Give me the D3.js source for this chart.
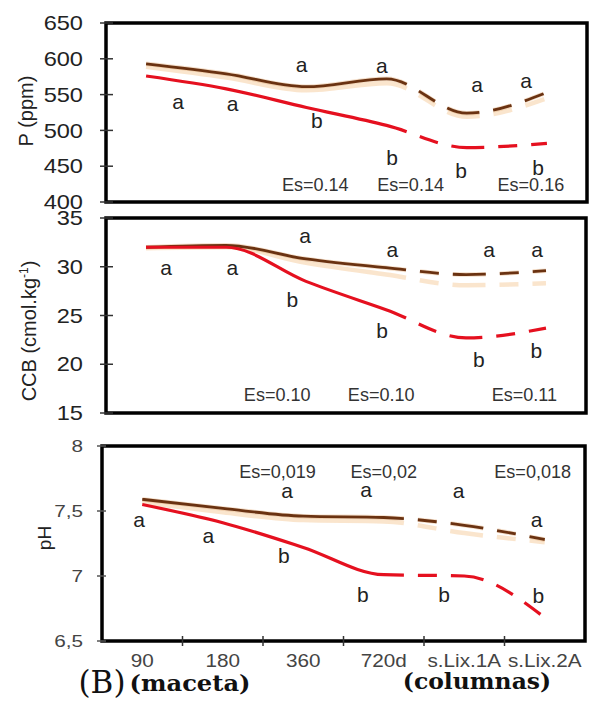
<!DOCTYPE html>
<html>
<head>
<meta charset="utf-8">
<script src="https://cdn.jsdelivr.net/npm/d3@7"></script>
<style>
  body { margin: 0; background: #fff; }
  svg { display: block; }
</style>
</head>
<body>
<svg id="chart" width="589" height="702"></svg>
<script>
// Sampling dates (pots) and leaching stages (columns)
const categories = ["90", "180", "360", "720d", "s.Lix.1A", "s.Lix.2A"];

// Available phosphorus, P (ppm)
const pBrown = [593, 579, 561, 572, 524, 553];
const pPeach = [589, 574, 556, 566, 519, 545];
const pRed   = [576, 558, 532, 507, 476, 482];
const pTicks = [400, 450, 500, 550, 600, 650];
const pUpperLetters = ["a", "a", "a", "a"];
const pLowerLetters = ["a", "a", "b", "b", "b", "b"];
const pEs = ["Es=0.14", "Es=0.14", "Es=0.16"];

// Base exchange capacity, CCB (cmol.kg-1)
const ccbBrown = [32.0, 32.2, 30.8, 29.9, 29.2, 29.6];
const ccbPeach = [31.9, 32.0, 30.4, 29.2, 28.1, 28.3];
const ccbRed   = [32.0, 32.0, 28.5, 25.6, 22.7, 23.7];
const ccbTicks = [15, 20, 25, 30, 35];
const ccbUpperLetters = ["a", "a", "a", "a"];
const ccbLowerLetters = ["a", "a", "b", "b", "b", "b"];
const ccbEs = ["Es=0.10", "Es=0.10", "Es=0.11"];

// Soil pH
const phBrown = [7.59, 7.52, 7.46, 7.45, 7.39, 7.28];
const phPeach = [7.57, 7.49, 7.43, 7.42, 7.33, 7.26];
const phRed   = [7.55, 7.41, 7.22, 7.01, 7.00, 6.68];
const phTicks = [6.5, 7, 7.5, 8];
const phUpperLetters = ["a", "a", "a", "a"];
const phLowerLetters = ["a", "a", "b", "b", "b", "b"];
const phEs = ["Es=0,019", "Es=0,02", "Es=0,018"];

// Annotation anchors in data units: [position along the 0..6 category axis, value]
const pUpperAt = [[2.44, 581.6], [3.44, 580.2], [4.63, 553.6], [5.24, 559.2]];
const pLowerAt = [[0.90, 529.9], [1.58, 527.1], [2.63, 503.4], [3.57, 451.7], [4.43, 433.5], [5.39, 437.7]];
const pEsAt = [[2.61, 415.4], [3.80, 415.4], [5.30, 415.4]];

const ccbUpperAt = [[2.49, 32.44], [3.58, 31.0], [4.79, 31.0], [5.39, 31.0]];
const ccbLowerAt = [[0.75, 29.15], [1.58, 29.15], [2.33, 25.87], [3.45, 22.69], [4.66, 19.72], [5.38, 20.64]];
const ccbEsAt = [[2.14, 16.23], [3.44, 16.23], [5.23, 16.23]];

const phUpperAt = [[2.30, 7.60], [3.28, 7.608], [4.43, 7.60], [5.40, 7.377]];
const phLowerAt = [[0.46, 7.377], [1.32, 7.254], [2.26, 7.10], [3.24, 6.80], [4.25, 6.80], [5.42, 6.79]];
const phEsAt = [[2.18, 7.754], [3.50, 7.754], [5.35, 7.754]];

const svg = d3.select("#chart");
const SANS = "'Liberation Sans', Arial, Helvetica, sans-serif";
const SERIF = "'DejaVu Serif', 'Liberation Serif', serif";

// Text helper: horizontally stretchable label
function label(g, str, x, y, o = {}) {
  const sx = o.sx || 1;
  return g.append("text")
    .attr("transform", `translate(${x},${y}) scale(${sx},1)`)
    .attr("text-anchor", o.anchor || "middle")
    .attr("font-family", o.family || SANS)
    .attr("font-size", o.size || 20)
    .attr("font-weight", o.weight || "normal")
    .attr("fill", o.fill || "#222")
    .text(str);
}

const panels = [
  {
    box: { left: 106, right: 587, top: 23, bottom: 202 },
    domain: [400, 650], ticks: pTicks, fmt: d => String(d),
    tickFont: { size: 20, sx: 1.18, fill: "#222" }, tickIn: 7, tickOut: 6,
    brown: pBrown, peach: pPeach, red: pRed,
    upper: pUpperLetters, upperAt: pUpperAt,
    lower: pLowerLetters, lowerAt: pLowerAt,
    es: pEs, esAt: pEsAt,
    title: "P (ppm)", titlePos: [33, 111], titleSize: 20
  },
  {
    box: { left: 106, right: 586, top: 218, bottom: 413 },
    domain: [15, 35], ticks: ccbTicks, fmt: d => String(d),
    tickFont: { size: 20, sx: 1.18, fill: "#222" }, tickIn: 7, tickOut: 6,
    brown: ccbBrown, peach: ccbPeach, red: ccbRed,
    upper: ccbUpperLetters, upperAt: ccbUpperAt,
    lower: ccbLowerLetters, lowerAt: ccbLowerAt,
    es: ccbEs, esAt: ccbEsAt,
    title: "CCB", titlePos: [36, 331], titleSize: 20
  },
  {
    box: { left: 102, right: 585, top: 446, bottom: 641 },
    domain: [6.5, 8], ticks: phTicks, fmt: d => String(d).replace(".", ","),
    tickFont: { size: 17, sx: 1.22, fill: "#444" }, tickIn: 4, tickOut: 5,
    brown: phBrown, peach: phPeach, red: phRed,
    upper: phUpperLetters, upperAt: phUpperAt,
    lower: phLowerLetters, lowerAt: phLowerAt,
    es: phEs, esAt: phEsAt,
    title: "pH", titlePos: [51, 538], titleSize: 19
  }
];

// Solid segment runs up to this position on the category axis; dashes after
const SPLIT = 3.75;
const DASHES = [14, 19, 14, 33, 14, 19, 14, 20, 14, 40, 200];

panels.forEach((P, pi) => {
  const b = P.box;
  const g = svg.append("g");
  const x = d3.scaleLinear().domain([0, 6]).range([b.left, b.right]);
  const y = d3.scaleLinear().domain(P.domain).range([b.bottom, b.top]);

  const line = d3.line()
    .x((d, i) => x(i + 0.5))
    .y(d => y(d))
    .curve(d3.curveMonotoneX);

  const drawSeries = (vals, color, width, opacity) => {
    const path = g.append("path")
      .datum(vals)
      .attr("d", line)
      .attr("fill", "none")
      .attr("stroke", color)
      .attr("stroke-width", width)
      .attr("stroke-linecap", "butt")
      .attr("stroke-opacity", opacity);
    // find the length at which the curve reaches the split position
    const node = path.node();
    const total = node.getTotalLength();
    const xs = x(SPLIT);
    let lo = 0, hi = total;
    for (let k = 0; k < 40; k++) {
      const mid = (lo + hi) / 2;
      if (node.getPointAtLength(mid).x < xs) lo = mid; else hi = mid;
    }
    path.attr("stroke-dasharray", [lo].concat(DASHES).join(","));
  };

  drawSeries(P.peach, "#f6cfa4", 4.5, 0.55);
  drawSeries(P.brown, "#e0a064", 4.5, 0.35);
  drawSeries(P.brown, "#6a3211", 2.8, 1);
  drawSeries(P.red, "#e5101f", 3.2, 1);

  // frame
  g.append("rect")
    .attr("x", b.left).attr("y", b.top)
    .attr("width", b.right - b.left).attr("height", b.bottom - b.top)
    .attr("fill", "none").attr("stroke", "#000").attr("stroke-width", 3.5);

  // y ticks crossing the frame
  g.selectAll(".yt").data(P.ticks).join("line")
    .attr("x1", b.left - P.tickOut).attr("x2", b.left + P.tickIn)
    .attr("y1", d => y(d)).attr("y2", d => y(d))
    .attr("stroke", pi === 2 ? "#555" : "#333").attr("stroke-width", 1.5);

  P.ticks.forEach(t => {
    label(g, P.fmt(t), 83, y(t) + P.tickFont.size * 0.36,
      { anchor: "end", size: P.tickFont.size, sx: P.tickFont.sx, fill: P.tickFont.fill });
  });

  // axis title
  const tg = g.append("g")
    .attr("transform", `translate(${P.titlePos[0]},${P.titlePos[1]}) rotate(-90)`);
  const tt = tg.append("text")
    .attr("text-anchor", "middle")
    .attr("font-family", SANS)
    .attr("font-size", P.titleSize)
    .attr("fill", "#222");
  if (P.title === "CCB") {
    tt.append("tspan").text("CCB (cmol.kg");
    tt.append("tspan").attr("font-size", 12).attr("dy", -8).text("-1");
    tt.append("tspan").attr("dy", 8).text(")");
  } else {
    tt.text(P.title);
  }

  // significance letters and standard errors
  P.upper.forEach((s, i) => label(g, s, x(P.upperAt[i][0]), y(P.upperAt[i][1]), { size: 21, fill: "#222" }));
  P.lower.forEach((s, i) => label(g, s, x(P.lowerAt[i][0]), y(P.lowerAt[i][1]), { size: 21, fill: "#222" }));
  P.es.forEach((s, i) => label(g, s, x(P.esAt[i][0]), y(P.esAt[i][1]), { size: 19, sx: 0.95, fill: "#333" }));

  // x axis on the bottom panel
  if (pi === 2) {
    g.selectAll(".xt").data([1, 2, 3, 4, 5]).join("line")
      .attr("x1", d => x(d)).attr("x2", d => x(d))
      .attr("y1", b.bottom - 5).attr("y2", b.bottom + 5)
      .attr("stroke", "#333").attr("stroke-width", 1.5);
    const band = d3.scaleBand().domain(categories).range([b.left, b.right]);
    categories.forEach(c => {
      label(g, c, band(c) + band.bandwidth() / 2, 667, { size: 18, sx: 1.15, fill: "#444" });
    });
  }
});

// group captions
label(svg, "(B)", 102, 693, { family: SERIF, size: 31, fill: "#111" });
label(svg, "(maceta)", 190, 691, { family: SERIF, size: 23, weight: "bold", sx: 1.05, fill: "#111" });
label(svg, "(columnas)", 477, 689, { family: SERIF, size: 23, weight: "bold", sx: 1.02, fill: "#111" });
</script>
</body>
</html>
